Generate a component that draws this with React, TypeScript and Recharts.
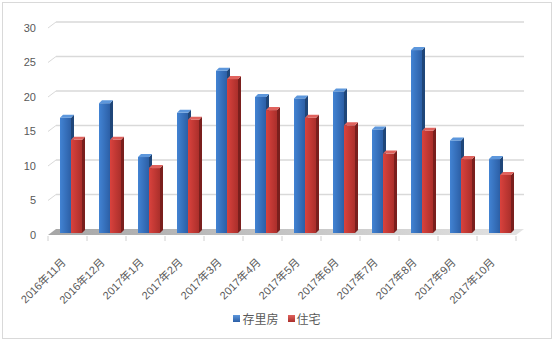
import { BarChart, Bar, XAxis, YAxis, CartesianGrid, Legend } from 'recharts'

const months = [
  '2016年11月',
  '2016年12月',
  '2017年1月',
  '2017年2月',
  '2017年3月',
  '2017年4月',
  '2017年5月',
  '2017年6月',
  '2017年7月',
  '2017年8月',
  '2017年9月',
  '2017年10月',
]
const stock = [17.0, 19.1, 11.3, 17.7, 23.8, 20.0, 19.8, 20.8, 15.3, 26.8, 13.7, 11.0]
const housing = [13.8, 13.8, 9.7, 16.7, 22.6, 18.1, 17.0, 15.9, 11.8, 15.1, 11.0, 8.7]
const yTicks = [0, 5, 10, 15, 20, 25, 30]

const data = months.map((m, i) => ({ month: m, stock: stock[i], housing: housing[i] }))

const FONT = '"Liberation Sans", "Noto Sans CJK SC", sans-serif'
const TEXT = '#595959'
// perspective shift of the back wall
const DX = 8
const DY = 6

const palettes: Record<string, { light: string; dark: string; side: string; top: string }> = {
  blue: { light: '#4283d3', dark: '#2c5fa6', side: '#1f4679', top: '#5d97dc' },
  red: { light: '#d9423d', dark: '#ab2f2b', side: '#7a1f1d', top: '#e0625d' },
}

function Bar3D(props: any) {
  const { x, y, width, height, tone } = props
  if (height <= 0) return null
  const c = palettes[tone]
  const bx = x + 3
  const by = y
  const bh = height - 2
  const d = 3
  return (
    <g>
      <rect x={bx} y={by} width={width} height={bh} fill={`url(#front-${tone})`} />
      <polygon
        points={`${bx + width},${by} ${bx + width + d},${by - d} ${bx + width + d},${by + bh - d} ${bx + width},${by + bh}`}
        fill={c.side}
      />
      <polygon
        points={`${bx},${by} ${bx + d},${by - d} ${bx + width + d},${by - d} ${bx + width},${by}`}
        fill={c.top}
      />
    </g>
  )
}

function GridLine(props: any) {
  const { x1, y1, x2, index } = props
  const isFloor = Math.abs(y1 - 235) < 1
  if (isFloor) {
    const step = (x2 - x1) / months.length
    return (
      <g key={`g-${index}`}>
        <polygon
          points={`${x1},${y1} ${x1 + DX},${y1 - DY} ${x2 + DX},${y1 - DY} ${x2},${y1}`}
          fill="url(#floor)"
        />
        {Array.from({ length: months.length + 1 }, (_, i) => (
          <line
            key={i}
            x1={x1 + i * step}
            y1={y1 + 1}
            x2={x1 + i * step}
            y2={y1 + 6}
            stroke="#d0d0d0"
          />
        ))}
      </g>
    )
  }
  return (
    <g key={`g-${index}`}>
      <line x1={x1} y1={y1} x2={x1 + DX} y2={y1 - DY} stroke="#d9d9d9" strokeWidth={1} />
      <line x1={x1 + DX} y1={y1 - DY} x2={x2 + DX} y2={y1 - DY} stroke="#d9d9d9" strokeWidth={1.5} />
    </g>
  )
}

function MonthTick(props: any) {
  const { x, y, payload } = props
  const ax = x - 1
  const ay = y + 20
  return (
    <text
      x={ax}
      y={ay}
      transform={`rotate(-45 ${ax} ${ay})`}
      textAnchor="end"
      fontSize={11}
      fill={TEXT}
      fontFamily={FONT}
    >
      {payload.value}
    </text>
  )
}

function LegendContent() {
  const items = [
    { label: '存里房', tone: 'blue' },
    { label: '住宅', tone: 'red' },
  ]
  return (
    <div style={{ display: 'flex', justifyContent: 'center', alignItems: 'center', gap: 9, height: 20 }}>
      {items.map((it) => (
        <div key={it.label} style={{ display: 'flex', alignItems: 'center', gap: 2 }}>
          <span
            style={{
              width: 7,
              height: 7,
              background: `linear-gradient(180deg, ${palettes[it.tone].top}, ${palettes[it.tone].dark})`,
              display: 'inline-block',
            }}
          />
          <span style={{ fontSize: 12, color: TEXT, fontFamily: FONT }}>{it.label}</span>
        </div>
      ))}
    </div>
  )
}

export default function App() {
  return (
    <div style={{ position: 'fixed', left: 0, top: 0, width: 554, height: 342, background: '#fff' }}>
      <div
        style={{
          position: 'absolute',
          left: 2,
          top: 2,
          width: 548,
          height: 335,
          border: '1px solid #d9d9d9',
        }}
      />
      <BarChart
        width={554}
        height={342}
        data={data}
        margin={{ top: 28, right: 38, left: 8, bottom: 0 }}
        barSize={11}
        barGap={0}
      >
        <defs>
          <linearGradient id="front-blue" x1="0" y1="0" x2="1" y2="0">
            <stop offset="0%" stopColor={palettes.blue.light} />
            <stop offset="100%" stopColor={palettes.blue.dark} />
          </linearGradient>
          <linearGradient id="front-red" x1="0" y1="0" x2="1" y2="0">
            <stop offset="0%" stopColor={palettes.red.light} />
            <stop offset="100%" stopColor={palettes.red.dark} />
          </linearGradient>
          <linearGradient id="floor" x1="0" y1="0" x2="1" y2="0">
            <stop offset="0%" stopColor="#a6a6a6" />
            <stop offset="100%" stopColor="#e3e3e3" />
          </linearGradient>
        </defs>
        <CartesianGrid vertical={false} horizontal={GridLine as any} />
        <XAxis
          dataKey="month"
          axisLine={false}
          tickLine={false}
          interval={0}
          height={87}
          tick={MonthTick as any}
        />
        <YAxis
          domain={[0, 30]}
          ticks={yTicks}
          axisLine={false}
          tickLine={false}
          tickSize={0}
          tickMargin={12}
          width={40}
          tick={{ fill: TEXT, fontSize: 11, fontFamily: FONT }}
        />
        <Legend
          verticalAlign="bottom"
          content={<LegendContent />}
          wrapperStyle={{ top: 308, left: 0, width: 554, height: 20 }}
        />
        <Bar dataKey="stock" name="存里房" isAnimationActive={false} shape={<Bar3D tone="blue" />} />
        <Bar dataKey="housing" name="住宅" isAnimationActive={false} shape={<Bar3D tone="red" />} />
      </BarChart>
    </div>
  )
}
